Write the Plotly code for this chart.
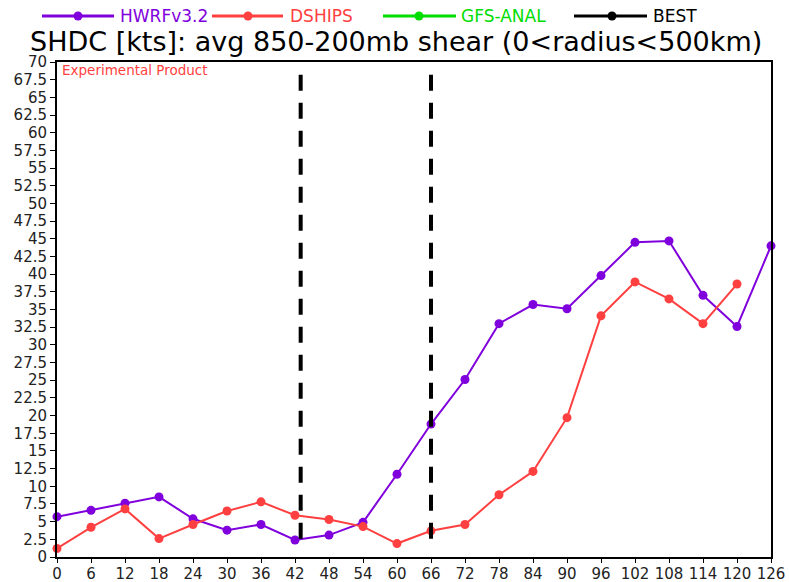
import plotly.graph_objects as go

# Forecast hours and shear values (kts)
hours = [0, 6, 12, 18, 24, 30, 36, 42, 48, 54, 60, 66, 72, 78, 84, 90,
         96, 102, 108, 114, 120, 126]
hwrf = [5.7, 6.6, 7.6, 8.5, 5.4, 3.8, 4.6, 2.4, 3.1, 4.9, 11.7, 18.8,
        25.1, 33.0, 35.7, 35.1, 39.8, 44.5, 44.7, 37.0, 32.6, 44.0]
dships_hours = hours[:-1]
dships = [1.2, 4.2, 6.8, 2.6, 4.6, 6.5, 7.8, 5.9, 5.3, 4.3, 1.9, 3.7,
          4.6, 8.8, 12.1, 19.7, 34.1, 38.9, 36.5, 33.0, 38.6]

# Vertical marker times (hours)
marker_hours = [43, 66]
marker_span = [2.5, 68.2]

y_ticks = [i * 2.5 for i in range(29)]
x_ticks = list(range(0, 127, 6))

legend_names = ["HWRFv3.2", "DSHIPS", "GFS-ANAL", "BEST"]
legend_colors = ["#8000dd", "#ff4040", "#00dd00", "#000000"]

title_text = "SHDC [kts]: avg 850-200mb shear (0<radius<500km)"

W, H = 789, 582
ML, MR, MT, MB = 57, 18, 62, 25
PW, PH = W - ML - MR, H - MT - MB


def px_x(px):
    return (px - ML) / PW


def px_y(py):
    return (H - MB - py) / PH


FONT = "DejaVu Sans"

fig = go.Figure()
fig.add_trace(go.Scatter(x=hours, y=hwrf, mode="lines+markers",
                         line=dict(color=legend_colors[0], width=2),
                         marker=dict(color=legend_colors[0], size=9),
                         cliponaxis=False, showlegend=False))
fig.add_trace(go.Scatter(x=dships_hours, y=dships, mode="lines+markers",
                         line=dict(color=legend_colors[1], width=2),
                         marker=dict(color=legend_colors[1], size=9),
                         cliponaxis=False, showlegend=False))

shapes = []
for h in marker_hours:
    shapes.append(dict(type="line", xref="x", yref="y", x0=h, x1=h,
                       y0=marker_span[1], y1=marker_span[0],
                       line=dict(color="black", width=4, dash="16px,12px")))

# Legend row drawn along the top
legend_layout = [(42, 114, 78, 118), (212, 283, 248, 288),
                 (383, 456, 419, 459), (574, 647, 612, 651)]
annotations = []
ly = 16
for (x0, x1, xm, xt), name, col in zip(legend_layout, legend_names, legend_colors):
    shapes.append(dict(type="line", xref="paper", yref="paper",
                       x0=px_x(x0), x1=px_x(x1), y0=px_y(ly), y1=px_y(ly),
                       line=dict(color=col, width=3)))
    shapes.append(dict(type="circle", xref="paper", yref="paper",
                       x0=px_x(xm - 4.5), x1=px_x(xm + 4.5),
                       y0=px_y(ly + 4.5), y1=px_y(ly - 4.5),
                       fillcolor=col, line=dict(color=col, width=0)))
    annotations.append(dict(xref="paper", yref="paper", x=px_x(xt), y=px_y(ly),
                            xanchor="left", yanchor="middle", text=name,
                            showarrow=False, font=dict(family=FONT, size=17, color=col)))

annotations.append(dict(xref="paper", yref="paper", x=px_x(396), y=px_y(42),
                        xanchor="center", yanchor="middle", text=title_text,
                        borderpad=0,
                        showarrow=False, font=dict(family=FONT, size=27, color="black")))
annotations.append(dict(xref="paper", yref="paper", x=px_x(60), y=px_y(70),
                        xanchor="left", yanchor="middle", text="Experimental Product",
                        showarrow=False, font=dict(family=FONT, size=13.5, color="#ff4040")))

fig.update_layout(
    width=W, height=H,
    margin=dict(l=ML, r=MR, t=MT, b=MB, pad=0, autoexpand=False),
    paper_bgcolor="white", plot_bgcolor="white",
    shapes=shapes, annotations=annotations,
    showlegend=False,
    xaxis=dict(range=[0, 126], tickmode="array", tickvals=x_ticks,
               ticktext=[str(v) for v in x_ticks], automargin=False, tickangle=0,
               showgrid=False, zeroline=False, showline=True, mirror=True,
               linecolor="black", linewidth=2, ticks="outside", ticklen=4,
               ticklabelstandoff=-2,
               tickcolor="black", tickfont=dict(family=FONT, size=15, color="#222")),
    yaxis=dict(range=[0, 70], tickmode="array", tickvals=y_ticks,
               ticktext=[f"{v:g}" for v in y_ticks], automargin=False,
               showgrid=False, zeroline=False, showline=True, mirror=True,
               linecolor="black", linewidth=2, ticks="outside", ticklen=5,
               tickcolor="black", tickfont=dict(family=FONT, size=15, color="#222")),
)

fig.write_html("out.html")
